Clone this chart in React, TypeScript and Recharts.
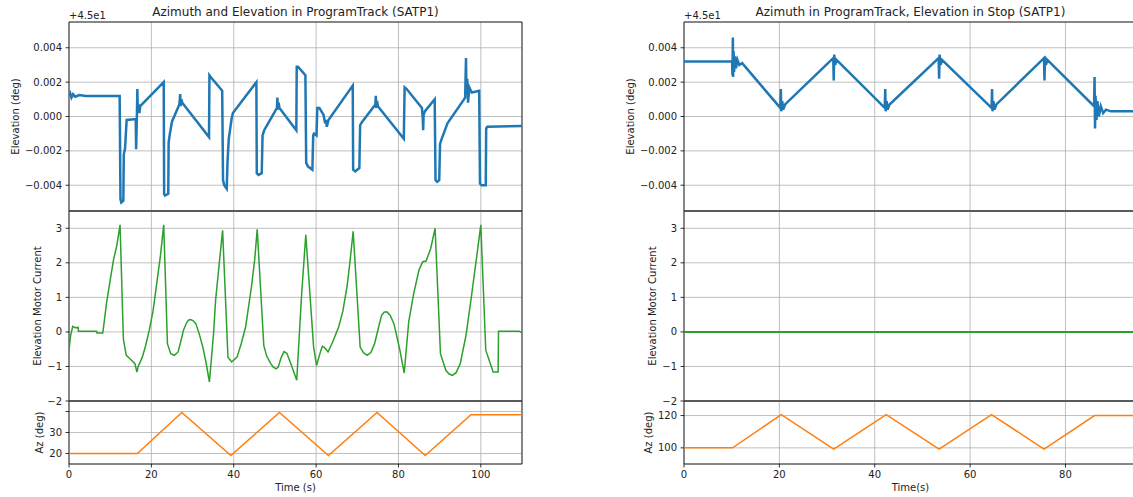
import React from 'react';
import { LineChart, Line, XAxis, YAxis, CartesianGrid, ReferenceArea } from 'recharts';

type Pt = [number, number];

// ---------- data (time s, value) ----------
const leftElevation: Pt[] = [
  [0, 0.0012], [0.3, 0.00135], [0.6, 0.0011], [1, 0.0013], [1.5, 0.00115], [2.5, 0.00125], [4, 0.0012], [12.3, 0.0012],
  [12.5, -0.0048], [12.7, -0.005], [13.2, -0.0049], [13.3, -0.0022], [13.6, -0.0019], [14.0, -0.0002], [16.2, -0.00015],
  [16.3, -0.0019], [16.5, 0.0002], [16.6, 0.0016], [16.7, 0.0003], [16.9, 0.0007], [17.1, 0.0002], [17.3, 0.0006],
  [23.0, 0.002],
  [23.1, -0.0045], [23.3, -0.0046], [24.1, -0.0045], [24.2, -0.0015], [24.5, -0.001], [25.0, -0.0003], [26.8, 0.0007],
  [27.0, 0.0013], [27.1, 0.0006], [27.3, 0.001], [27.5, 0.0008],
  [34.0, -0.0012], [34.1, 0.0024], [34.4, 0.0023], [37.2, 0.0015],
  [37.4, -0.0037], [37.7, -0.004], [38.3, -0.0042], [38.5, -0.0026], [38.8, -0.0013], [39.5, -0.0001], [39.8, 0.0002], [45.5, 0.002],
  [45.6, -0.0033], [46, -0.0034], [46.8, -0.0033], [47.0, -0.0011], [47.4, -0.0008], [50.5, 0.0005], [50.6, 0.0011],
  [50.7, 0.0004], [50.9, 0.0008], [51.1, 0.0005],
  [55.2, -0.0008], [55.3, 0.0029], [55.6, 0.0029], [57.4, 0.0024],
  [57.6, -0.0027], [58, -0.0029], [59.1, -0.0031], [59.3, -0.0011], [59.5, -0.001], [60.1, -0.0011], [60.3, 0.0005],
  [60.8, 0.0005], [61.8, 0.0001], [62.2, -0.0004], [62.4, -0.0002], [62.6, -0.0006], [63, -0.0002], [68.9, 0.0018],
  [69.0, -0.0031], [69.5, -0.0032], [70.5, -0.003], [70.7, -0.0005], [71.2, -0.0003], [74.4, 0.0007], [74.5, 0.0012],
  [74.6, 0.0005], [74.8, 0.0009], [75.0, 0.0006],
  [81.3, -0.0013], [81.5, 0.0017], [82, 0.0016], [85.7, 0.0005], [85.9, -0.0001], [86.0, -0.0008], [86.1, 0.0001],
  [86.4, 0.0003], [88.8, 0.001],
  [89.0, -0.0037], [89.4, -0.0038], [89.9, -0.0037], [90.1, -0.0016], [90.5, -0.0013], [91.9, -0.0004], [96.2, 0.0011],
  [96.4, 0.0034], [96.5, 0.0015], [96.7, 0.0022], [96.9, 0.0008], [97.2, 0.0017], [97.8, 0.0014], [99.6, 0.0015],
  [99.8, -0.0039], [100.2, -0.004], [101.2, -0.004], [101.3, -0.0007], [101.6, -0.0006], [110, -0.00055],
];

const leftCurrent: Pt[] = [
  [0, -0.53], [0.4, -0.1], [0.9, 0.16], [1.5, 0.12], [2.2, 0.13], [2.3, 0.02], [6.7, 0.02], [6.8, -0.03], [8.2, -0.03], [8.4, 0.15],
  [9.1, 0.82], [10.0, 1.5], [10.8, 2.08], [11.6, 2.5], [12.4, 3.1],
  [13.2, -0.2], [13.9, -0.68], [15, -0.8], [16.0, -0.92], [16.5, -1.16], [16.8, -1.0], [17.8, -0.73], [18.6, -0.4],
  [19.5, 0.05], [20.4, 0.6], [21.2, 1.31], [22.2, 2.2], [23.0, 3.1],
  [23.9, -0.34], [24.7, -0.63], [25.6, -0.68], [26.5, -0.58], [27.1, -0.3], [27.8, 0.05], [28.5, 0.25], [29.0, 0.34],
  [29.5, 0.36], [30.1, 0.33], [30.8, 0.24], [31.6, -0.05], [32.5, -0.44], [33.3, -0.9], [34.1, -1.45],
  [35.1, -0.05], [35.6, 0.92], [36.5, 2.0], [37.3, 2.94],
  [38.6, -0.73], [39.5, -0.87], [40.8, -0.73], [41.8, -0.35], [42.9, 0.15], [44.3, 1.3], [45.1, 2.1], [45.7, 2.97],
  [47.3, -0.39], [48, -0.7], [49, -0.92], [49.6, -1.02], [50.3, -1.07], [50.8, -1.02], [51.5, -0.75], [52.2, -0.57],
  [52.9, -0.62], [53.8, -0.9], [54.7, -1.2], [55.3, -1.4],
  [56.5, 1.11], [57.5, 2.81],
  [59.4, -0.44], [60.1, -0.97], [61, -0.6], [61.5, -0.42], [62, -0.45], [62.9, -0.58], [64, -0.3], [65.5, 0.15],
  [66.5, 0.6], [67.5, 1.3], [68.2, 2.0], [69, 2.91],
  [70.7, -0.44], [71.5, -0.6], [72.4, -0.68], [73.3, -0.6], [74.2, -0.34], [75.1, 0.1], [75.9, 0.48], [76.5, 0.57],
  [77.2, 0.58], [78, 0.48], [78.9, 0.24], [80.3, -0.5], [81.4, -1.19],
  [82.5, 0.3], [83.7, 1.11], [85.0, 1.8], [85.9, 2.03], [86.7, 2.05], [87.8, 2.4], [88.9, 3.0],
  [90.2, -0.63], [91.5, -1.11], [92.3, -1.22], [93.1, -1.26], [94, -1.18], [95, -0.92], [96.4, -0.1], [97.6, 0.92],
  [98.8, 2.0], [100, 3.1],
  [101.2, -0.53], [103, -1.16], [104.2, -1.16], [104.3, 0.02], [109.3, 0.02], [110, -0.03],
];

const leftAz: Pt[] = [
  [0, 20], [16.6, 20], [27.4, 39.5], [39.3, 19], [51.1, 39.5], [63, 19], [74.8, 39.5], [86.5, 19], [97.6, 38.5], [110, 38.5],
];

const rightElevation: Pt[] = [
  [0, 0.0032], [10.1, 0.0032], [10.15, 0.0024], [10.25, 0.0046], [10.3, 0.0023], [10.4, 0.0038], [10.5, 0.0026],
  [10.7, 0.0035], [10.9, 0.0028], [11.2, 0.0033], [11.6, 0.003], [12.2, 0.0031],
  [20.2, 0.0005], [20.3, 0.0016], [20.4, 0.0003], [20.6, 0.0009], [20.8, 0.0004], [21.2, 0.0007],
  [31.3, 0.0034], [31.4, 0.0021], [31.5, 0.0036], [31.7, 0.003], [32.0, 0.0033],
  [42.1, 0.0005], [42.2, 0.0016], [42.3, 0.0003], [42.5, 0.0009], [42.7, 0.0004], [43.1, 0.0007],
  [53.4, 0.0034], [53.5, 0.0022], [53.6, 0.0036], [53.8, 0.003], [54.1, 0.0033],
  [64.5, 0.0005], [64.6, 0.0016], [64.7, 0.0003], [64.9, 0.0009], [65.1, 0.0004], [65.5, 0.0007],
  [75.5, 0.0034], [75.6, 0.0021], [75.7, 0.0035], [75.9, 0.003], [76.2, 0.0033],
  [86.0, 0.0006], [86.1, 0.0023], [86.2, -0.0007], [86.3, 0.0012], [86.5, -0.0002], [86.7, 0.0009], [87, 0.0],
  [87.4, 0.0006], [87.9, 0.0002], [88.5, 0.0004], [89.5, 0.0003], [95, 0.0003],
];

const rightCurrent: Pt[] = [[0, 0], [95, 0]];

const rightAz: Pt[] = [
  [0, 100], [10.2, 100], [20.4, 120.6], [31.4, 99.2], [42.4, 120.6], [53.5, 99.2], [64.5, 120.6], [75.5, 99.2], [86.1, 120], [95, 120],
];

// ---------- ticks / labels ----------
const leftTimeTicks = [0, 20, 40, 60, 80, 100];
const rightTimeTicks = [0, 20, 40, 60, 80];
const elevTicks = [-0.004, -0.002, 0, 0.002, 0.004];
const currentTicks = [-2, -1, 0, 1, 2, 3];
const leftAzTicks = [20, 30, 40];
const rightAzTicks = [100, 120];
const titles = ['Azimuth and Elevation in ProgramTrack (SATP1)', 'Azimuth in ProgramTrack, Elevation in Stop (SATP1)'];
const xLabels = ['Time (s)', 'Time(s)'];

const FONT = '"DejaVu Sans", sans-serif';
const MINUS = '\u2212';
const fmtElev = (v: number) => (v < 0 ? MINUS : '') + Math.abs(v).toFixed(3);
const fmtInt = (v: number) => (v < 0 ? MINUS : '') + String(Math.abs(v));
const fmtLeftAz = (v: number) => (v === 40 ? '' : String(v));

interface SubProps {
  plotX: number; plotY: number; plotW: number; plotH: number;
  padL: number; padT: number; padB: number; padR: number;
  points: Pt[]; color: string; lw: number;
  xDomain: [number, number]; xTicks: number[]; showX: boolean;
  yDomain: [number, number]; yTicks: number[]; yFmt: (v: number) => string;
  ylabel: string; ylabelCx: number;
  title?: string; offsetText?: string; xlabel?: string;
}

function Subplot(p: SubProps) {
  const data = p.points.map(([t, v]) => ({ t, v }));
  const width = p.padL + p.plotW + p.padR;
  const height = p.padT + p.plotH + p.padB;
  const left = p.plotX - p.padL;
  const top = p.plotY - p.padT;
  const cx = p.padL + p.plotW / 2;
  const lx = p.ylabelCx - left;
  const ly = p.padT + p.plotH / 2;
  const tickStyle = { fontSize: 10, fill: '#222', fontFamily: FONT };
  return (
    <div style={{ position: 'absolute', left, top, width, height }}>
      <LineChart
        width={width}
        height={height}
        data={data}
        margin={{ top: p.padT, right: p.padR, bottom: p.showX ? 0 : p.padB, left: 0 }}
      >
        <CartesianGrid stroke="#b0b0b0" strokeWidth={0.8} />
        <XAxis
          type="number"
          dataKey="t"
          domain={p.xDomain}
          ticks={p.xTicks}
          allowDataOverflow
          hide={!p.showX}
          height={p.showX ? p.padB : 0}
          tickSize={3.5}
          tickMargin={3.5}
          tick={tickStyle}
          tickLine={{ stroke: '#000', strokeWidth: 0.8 }}
          axisLine={false}
          interval={0}
        />
        <YAxis
          type="number"
          domain={p.yDomain}
          ticks={p.yTicks}
          allowDataOverflow
          width={p.padL}
          tickSize={3.5}
          tickMargin={3.5}
          tickFormatter={p.yFmt}
          tick={tickStyle}
          tickLine={{ stroke: '#000', strokeWidth: 0.8 }}
          axisLine={false}
          interval={0}
        />
        <ReferenceArea
          x1={p.xDomain[0]}
          x2={p.xDomain[1]}
          y1={p.yDomain[0]}
          y2={p.yDomain[1]}
          fill="none"
          fillOpacity={0}
          stroke="#000"
          strokeWidth={0.8}
          strokeOpacity={1}
        />
        <Line
          type="linear"
          dataKey="v"
          stroke={p.color}
          strokeWidth={p.lw}
          dot={false}
          activeDot={false}
          isAnimationActive={false}
        />
        <text
          x={lx}
          y={ly}
          transform={`rotate(-90, ${lx}, ${ly})`}
          textAnchor="middle"
          dominantBaseline="central"
          fontSize={10}
          fontFamily={FONT}
          fill="#222"
        >
          {p.ylabel}
        </text>
        {p.title ? (
          <text x={cx} y={p.padT - 6} textAnchor="middle" fontSize={12} fontFamily={FONT} fill="#222">
            {p.title}
          </text>
        ) : null}
        {p.offsetText ? (
          <text x={p.padL} y={p.padT - 3} textAnchor="start" fontSize={10} fontFamily={FONT} fill="#222">
            {p.offsetText}
          </text>
        ) : null}
        {p.xlabel ? (
          <text x={cx} y={p.padT + p.plotH + 27} textAnchor="middle" fontSize={10} fontFamily={FONT} fill="#222">
            {p.xlabel}
          </text>
        ) : null}
      </LineChart>
    </div>
  );
}

const PLOT_W = 453;
const ROW_TOP = [22, 211, 401];
const ROW_H = [189, 190, 63];

export default function App() {
  const cols = [
    {
      plotX: 69, padL: 69, xDomain: [0, 110] as [number, number], xTicks: leftTimeTicks,
      elev: leftElevation, cur: leftCurrent, az: leftAz, azDomain: [15, 45] as [number, number], azTicks: leftAzTicks,
      azFmt: fmtLeftAz, lblX: [15, 37, 39], curLw: 1.5,
    },
    {
      plotX: 684, padL: 114, xDomain: [0, 95] as [number, number], xTicks: rightTimeTicks,
      elev: rightElevation, cur: rightCurrent, az: rightAz, azDomain: [90, 129] as [number, number], azTicks: rightAzTicks,
      azFmt: fmtInt, lblX: [630, 652, 648], curLw: 2,
    },
  ];
  return (
    <div style={{ position: 'absolute', left: 0, top: 0, width: 1133, height: 497, overflow: 'hidden', background: '#fff' }}>
      {cols.map((c, i) => (
        <React.Fragment key={i}>
          <Subplot
            plotX={c.plotX} plotY={ROW_TOP[0]} plotW={PLOT_W} plotH={ROW_H[0]}
            padL={c.padL} padT={22} padB={4} padR={8}
            points={c.elev} color="#1f77b4" lw={2.5}
            xDomain={c.xDomain} xTicks={c.xTicks} showX={false}
            yDomain={[-0.0055, 0.0055]} yTicks={elevTicks} yFmt={fmtElev}
            ylabel="Elevation (deg)" ylabelCx={c.lblX[0]}
            title={titles[i]} offsetText="+4.5e1"
          />
          <Subplot
            plotX={c.plotX} plotY={ROW_TOP[1]} plotW={PLOT_W} plotH={ROW_H[1]}
            padL={c.padL} padT={4} padB={12} padR={8}
            points={c.cur} color="#2ca02c" lw={c.curLw}
            xDomain={c.xDomain} xTicks={c.xTicks} showX={false}
            yDomain={[-2, 3.5]} yTicks={currentTicks} yFmt={fmtInt}
            ylabel="Elevation Motor Current" ylabelCx={c.lblX[1]}
          />
          <Subplot
            plotX={c.plotX} plotY={ROW_TOP[2]} plotW={PLOT_W} plotH={ROW_H[2]}
            padL={c.padL} padT={4} padB={33} padR={8}
            points={c.az} color="#ff7f0e" lw={1.5}
            xDomain={c.xDomain} xTicks={c.xTicks} showX={true}
            yDomain={c.azDomain} yTicks={c.azTicks} yFmt={c.azFmt}
            ylabel="Az (deg)" ylabelCx={c.lblX[2]}
            xlabel={xLabels[i]}
          />
        </React.Fragment>
      ))}
    </div>
  );
}
